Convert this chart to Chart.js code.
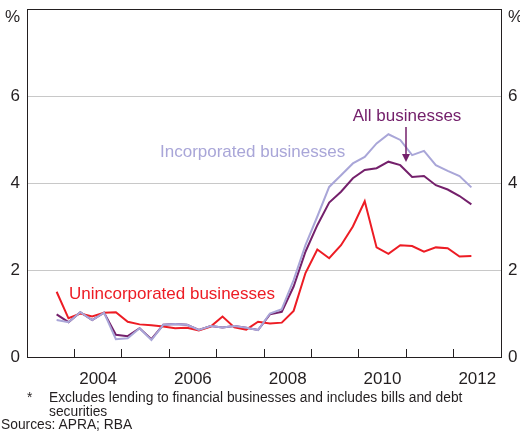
<!DOCTYPE html>
<html>
<head>
<meta charset="utf-8">
<script src="https://cdn.jsdelivr.net/npm/chart.js@4.4.1/dist/chart.umd.min.js"></script>
<style>
  html, body { margin: 0; padding: 0; background: #fff; }
  #wrap { position: relative; width: 520px; height: 434px; overflow: hidden; font-family: "Liberation Sans", Arial, sans-serif; color: #231f20; }
  canvas { position: absolute; left: 0; top: 0; }
  .note { position: absolute; font-size: 13.8px; line-height: 13.5px; white-space: nowrap; }
</style>
</head>
<body>
<div id="wrap">
  <canvas id="chart" width="520" height="434"></canvas>
  <div class="note" style="left:27px; top:391px;">*</div>
  <div class="note" style="left:49px; top:391px;">Excludes lending to financial businesses and includes bills and debt<br>securities</div>
  <div class="note" style="left:1px; top:418px;">Sources: APRA; RBA</div>
</div>
<script>
// Quarterly observations
const quarters = [
  '2003 Q3', '2003 Q4',
  '2004 Q1', '2004 Q2', '2004 Q3', '2004 Q4',
  '2005 Q1', '2005 Q2', '2005 Q3', '2005 Q4',
  '2006 Q1', '2006 Q2', '2006 Q3', '2006 Q4',
  '2007 Q1', '2007 Q2', '2007 Q3', '2007 Q4',
  '2008 Q1', '2008 Q2', '2008 Q3', '2008 Q4',
  '2009 Q1', '2009 Q2', '2009 Q3', '2009 Q4',
  '2010 Q1', '2010 Q2', '2010 Q3', '2010 Q4',
  '2011 Q1', '2011 Q2', '2011 Q3', '2011 Q4',
  '2012 Q1', '2012 Q2'
];

const incorporated = [
  0.85, 0.80, 1.03, 0.85, 1.02, 0.41, 0.43, 0.66, 0.39, 0.74,
  0.76, 0.74, 0.62, 0.71, 0.68, 0.71, 0.67, 0.62, 1.00, 1.10,
  1.77, 2.57, 3.23, 3.91, 4.18, 4.45, 4.60, 4.91, 5.12, 4.99,
  4.64, 4.74, 4.41, 4.28, 4.16, 3.90
];

const allBusinesses = [
  0.98, 0.80, 1.03, 0.85, 1.02, 0.51, 0.48, 0.66, 0.41, 0.74,
  0.76, 0.74, 0.62, 0.71, 0.68, 0.71, 0.67, 0.62, 0.98, 1.04,
  1.62, 2.42, 3.03, 3.55, 3.80, 4.11, 4.30, 4.34, 4.49, 4.41,
  4.14, 4.16, 3.95, 3.85, 3.70, 3.51
];

const unincorporated = [
  1.50, 0.89, 1.00, 0.93, 1.02, 1.03, 0.81, 0.75, 0.73, 0.70,
  0.66, 0.67, 0.61, 0.70, 0.93, 0.68, 0.63, 0.81, 0.77, 0.79,
  1.06, 1.93, 2.47, 2.27, 2.57, 3.00, 3.58, 2.52, 2.37, 2.57,
  2.55, 2.42, 2.52, 2.50, 2.31, 2.32
];

const yearLabels = [2004, 2006, 2008, 2010, 2012];
const yTicks = [0, 2, 4, 6, 7.8]; // top one carries the '%' unit

const RED = '#ed1c24';
const PURPLE = '#74206b';
const LAVENDER = '#a9a6d8';
const INK = '#231f20';

// quarter label -> decimal year at the middle of the quarter
const toYear = q => {
  const [yr, qq] = q.split(' Q');
  return +yr + (+qq - 1) / 4 + 0.125;
};
const series = vals => vals.map((v, i) => ({ x: toYear(quarters[i]), y: v }));

Chart.defaults.font.family = '"Liberation Sans", Arial, sans-serif';
Chart.defaults.font.size = 17;
Chart.defaults.color = INK;

// frame around the plot area
const frame = {
  id: 'frame',
  afterDatasetsDraw(chart) {
    const { ctx, chartArea: a } = chart;
    ctx.save();
    ctx.strokeStyle = INK;
    ctx.lineWidth = 1;
    ctx.strokeRect(Math.round(a.left) + 0.5, Math.round(a.top) + 0.5,
      Math.round(a.right - a.left), Math.round(a.bottom - a.top));
    ctx.restore();
  }
};

// series names and the arrow
const labels = {
  id: 'labels',
  afterDatasetsDraw(chart) {
    const { ctx } = chart;
    ctx.save();
    ctx.font = '17px "Liberation Sans", Arial, sans-serif';
    ctx.textBaseline = 'middle';
    ctx.textAlign = 'left';
    ctx.fillStyle = LAVENDER;
    ctx.fillText('Incorporated businesses', 160, 152);
    ctx.fillStyle = RED;
    ctx.fillText('Unincorporated businesses', 69, 294);
    ctx.fillStyle = PURPLE;
    ctx.textAlign = 'center';
    ctx.fillText('All businesses', 407, 116);

    ctx.strokeStyle = PURPLE;
    ctx.lineWidth = 1.5;
    ctx.beginPath();
    ctx.moveTo(406, 127);
    ctx.lineTo(406, 155);
    ctx.stroke();
    ctx.beginPath();
    ctx.moveTo(402, 154);
    ctx.lineTo(410, 154);
    ctx.lineTo(406, 162);
    ctx.closePath();
    ctx.fill();
    ctx.restore();
  }
};

const noPad = s => { s.paddingTop = 0; s.paddingBottom = 0; s.paddingLeft = 0; s.paddingRight = 0; };

const yAxis = (position, width) => ({
  type: 'linear',
  position,
  min: 0,
  max: 8,
  afterBuildTicks: s => { s.ticks = yTicks.map(v => ({ value: v })); },
  afterFit: s => { s.width = width; noPad(s); },
  ticks: {
    padding: 7,
    callback: v => (v > 7 ? '%' : String(v))
  },
  grid: {
    display: position === 'left',
    drawTicks: false,
    color: ctx => (ctx.tick && ctx.tick.value > 0 && ctx.tick.value < 7) ? '#c8c8c8' : 'rgba(0,0,0,0)',
    lineWidth: 1
  },
  border: { display: false }
});

new Chart(document.getElementById('chart'), {
  type: 'line',
  data: {
    datasets: [
      { label: 'Incorporated businesses', data: series(incorporated), borderColor: LAVENDER },
      { label: 'Unincorporated businesses', data: series(unincorporated), borderColor: RED },
      { label: 'All businesses', data: series(allBusinesses), borderColor: PURPLE }
    ].map(d => ({ ...d, borderWidth: 2, pointRadius: 0, tension: 0, fill: false }))
  },
  options: {
    responsive: false,
    animation: false,
    layout: { padding: { top: 9, bottom: 47, left: 0, right: 0 } },
    plugins: { legend: { display: false }, tooltip: { enabled: false } },
    scales: {
      x: {
        type: 'linear',
        position: 'bottom',
        min: 2003,
        max: 2013,
        ticks: { display: false, stepSize: 1 },
        grid: { drawOnChartArea: false, drawTicks: true, tickLength: -8, color: INK, lineWidth: 1 },
        border: { display: false },
        afterFit: s => { s.height = 0; noPad(s); }
      },
      years: {
        type: 'linear',
        position: 'bottom',
        min: 2003,
        max: 2013,
        afterBuildTicks: s => { s.ticks = yearLabels.map(y => ({ value: y + 0.5 })); },
        ticks: { autoSkip: false, maxRotation: 0, padding: 4, callback: v => String(Math.floor(v)) },
        grid: { display: false },
        border: { display: false },
        afterFit: s => { s.height = 30; noPad(s); }
      },
      y: yAxis('left', 27),
      y2: yAxis('right', 19)
    }
  },
  plugins: [frame, labels]
});
</script>
</body>
</html>
